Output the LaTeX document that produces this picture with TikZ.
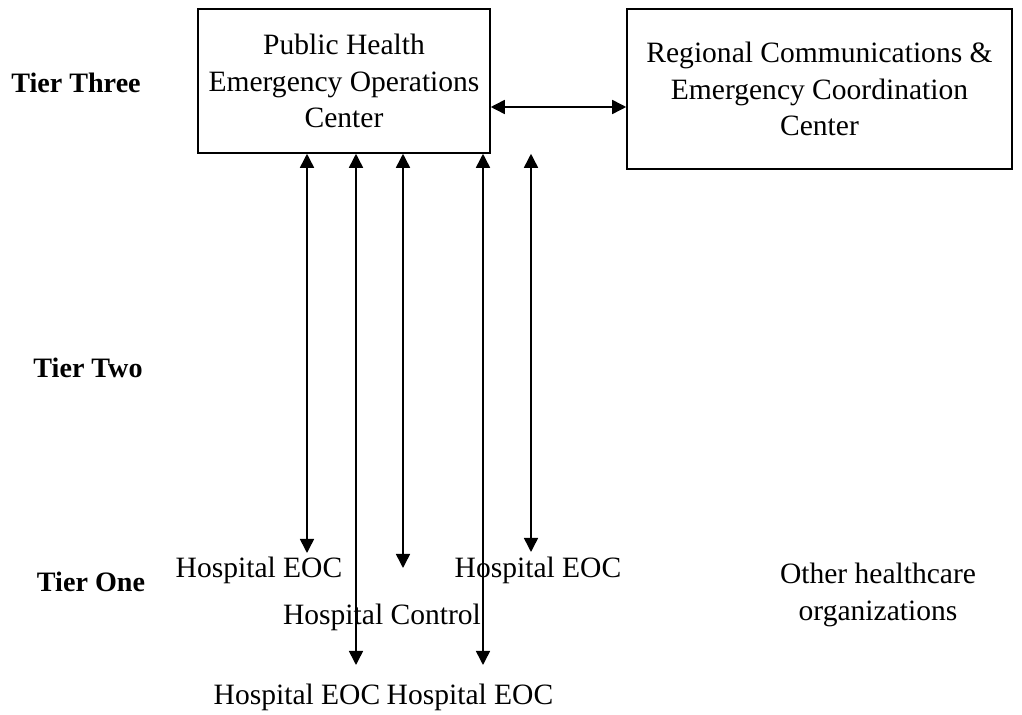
\documentclass[tikz,border=0pt]{standalone}
\usepackage{fontspec}
\setmainfont{Liberation Serif}
\usetikzlibrary{arrows.meta}
\tikzset{
  tier/.style={font=\fontsize{20}{24}\selectfont\bfseries},
  lbl/.style={font=\fontsize{21}{26}\selectfont, align=center, inner sep=0pt},
  centre/.style={draw, line width=1.1pt, font=\fontsize{21}{26}\selectfont, align=center, inner sep=0pt},
  link/.style={line width=1.1pt, arrows = {Triangle[length=3.5mm, width=3.5mm]-Triangle[length=3.5mm, width=3.5mm]}},
}

\begin{document}
\begin{tikzpicture}[x=0.025cm, y=-0.025cm]
\useasboundingbox (0,0) rectangle (1022,715);
\node [tier] (t3) at (76,83) {Tier Three};
\node [tier] (t2) at (88,368) {Tier Two};
\node [tier] (t1) at (91,582) {Tier One};
\node [centre, minimum width=292*0.025cm, minimum height=144*0.025cm] (phe) at (344,81) {Public Health\\Emergency Operations\\Center};
\node [centre, minimum width=385*0.025cm, minimum height=160*0.025cm] (rcc) at (819.5,89) {Regional Communications \&\\Emergency Coordination\\Center};
\draw [link] (phe.east |- 0,107) -- (rcc.west |- 0,107);
\node [lbl] (h1) at (259,570) {Hospital EOC};
\node [lbl] (h2) at (538,570) {Hospital EOC};
\node [lbl] (hc) at (382,617) {Hospital Control};
\node [lbl] (h3) at (297,697) {Hospital EOC};
\node [lbl] (h4) at (470,697) {Hospital EOC};
\node [lbl] (oth) at (878,595) {Other healthcare\\organizations};
\coordinate (e1) at (307,553);
\coordinate (e2) at (356,665);
\coordinate (e3) at (403,568);
\coordinate (e4) at (483,665);
\coordinate (e5) at (531,552);
\foreach \e in {e1,e2,e3,e4,e5}
  \draw [link] (\e |- phe.south) -- (\e);
\end{tikzpicture}
\end{document}
